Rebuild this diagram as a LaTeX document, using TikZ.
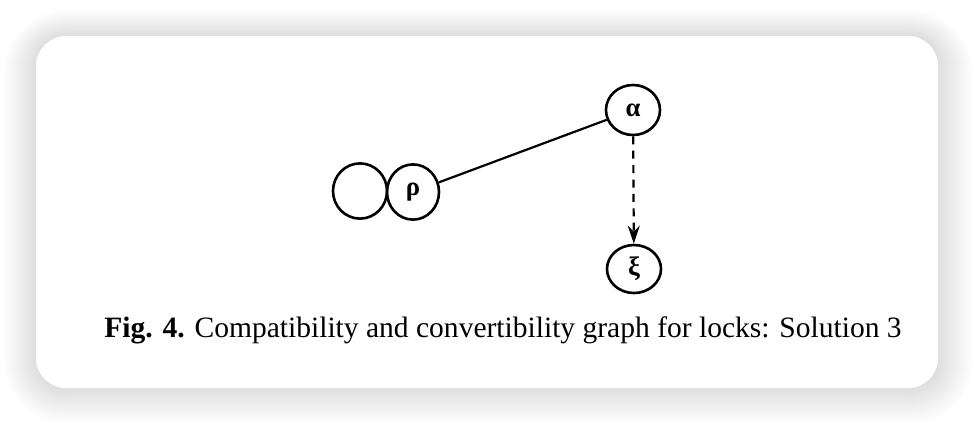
\documentclass[tikz,border=0pt]{standalone}
\usepackage{fontspec}
\setmainfont{Liberation Serif}
\usetikzlibrary{arrows.meta,shapes.geometric}
\tikzset{
  lock/.style={
    ellipse,
    draw=black,
    line width=0.65mm,
    minimum width=1.35cm,
    minimum height=1.25cm,
    inner sep=0pt,
    font=\fontsize{19}{22}\selectfont\bfseries
  },
  compat/.style={line width=0.55mm},
  convert/.style={
    line width=0.55mm,
    dash pattern=on 2mm off 1.6mm,
    -{Stealth[length=4.5mm,width=3mm]}
  },
  caption/.style={font=\fontsize{21}{25}\selectfont, inner sep=0pt}
}
\newcommand{\cardshadow}{%
  \foreach \i in {1,...,16}
    \fill[black, opacity=0.006, rounded corners=0.75cm+\i*0.05cm]
      (36-2*\i,36-1.6*\i) rectangle (938+2.2*\i,388+2.2*\i);
}

\begin{document}
\begin{tikzpicture}[x=0.025cm, y=-0.025cm]
  \useasboundingbox (0,0) rectangle (974,424);
  \cardshadow
  \fill[white, rounded corners=0.75cm] (36,36) rectangle (938,388);
  % locks
  \node[lock] (alpha) at (633,110) {α};
  \node[lock, minimum height=1.38cm, minimum width=1.3cm] (rho) at (413,192) {ρ};
  \node[lock, minimum height=1.38cm, minimum width=1.35cm] (free) at (360,191) {};
  \node[lock, minimum height=1.2cm] (xi) at (634,269) {ξ};
  % edges
  \draw[compat] (rho) -- (alpha);
  \draw[convert] (alpha) -- (xi);
  % caption
  \node[caption] (cap) at (503,330)
    {\textbf{Fig. 4.} Compatibility and convertibility graph for locks: Solution 3};
\end{tikzpicture}
\end{document}
